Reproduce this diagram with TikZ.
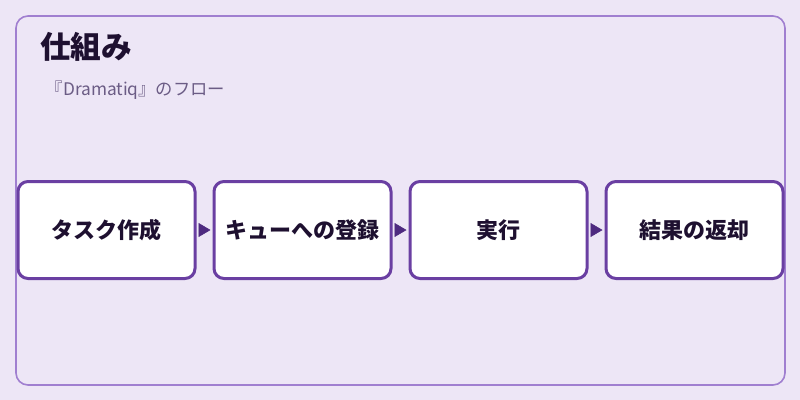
\documentclass[tikz,border=0pt]{standalone}
\usepackage{fontspec}
\setmainfont{Noto Sans CJK JP}
\usetikzlibrary{arrows.meta}
\definecolor{bgc}{HTML}{EDE6F6}
\definecolor{framec}{HTML}{A07FD0}
\definecolor{boxc}{HTML}{6A3FA2}
\definecolor{arrc}{HTML}{4E2A80}
\definecolor{titlec}{HTML}{1E1030}
\definecolor{subc}{HTML}{6B5C85}
\tikzset{
  stepbox/.style={draw=boxc, line width=2.25pt, fill=white, rounded corners=7.5pt,
    minimum width=132.75pt, minimum height=72.75pt, inner sep=0pt,
    font=\fontsize{16.5pt}{20pt}\selectfont\bfseries, text=titlec},
  flowarrow/.style={draw=arrc, line width=0.4pt, shorten <=3pt, shorten >=1.5pt,
    -{Triangle[length=9pt,width=10.5pt]}, arrc}
}
\begin{document}
\begin{tikzpicture}[x=0.75pt,y=-0.75pt]
\useasboundingbox (0,0) rectangle (800,400);
\fill[bgc] (0,0) rectangle (800,400);
\draw[framec, line width=1.2pt, rounded corners=9pt] (16,16) rectangle (785,385);
\node[anchor=west, font=\fontsize{23pt}{28pt}\selectfont\bfseries, text=titlec, inner sep=0pt] (title) at (40,47) {仕組み};
\node[anchor=west, font=\fontsize{13pt}{16pt}\selectfont, text=subc, inner sep=0pt] (sub) at (45.5,90) {『Dramatiq』のフロー};
\node[stepbox] (b1) at (106.5,230) {タスク作成};
\node[stepbox] (b2) at (302.5,230) {キューへの登録};
\node[stepbox] (b3) at (498.5,230) {実行};
\node[stepbox] (b4) at (694.5,230) {結果の返却};
\draw[flowarrow] (b1.east) -- (b2.west);
\draw[flowarrow] (b2.east) -- (b3.west);
\draw[flowarrow] (b3.east) -- (b4.west);
\end{tikzpicture}
\end{document}
